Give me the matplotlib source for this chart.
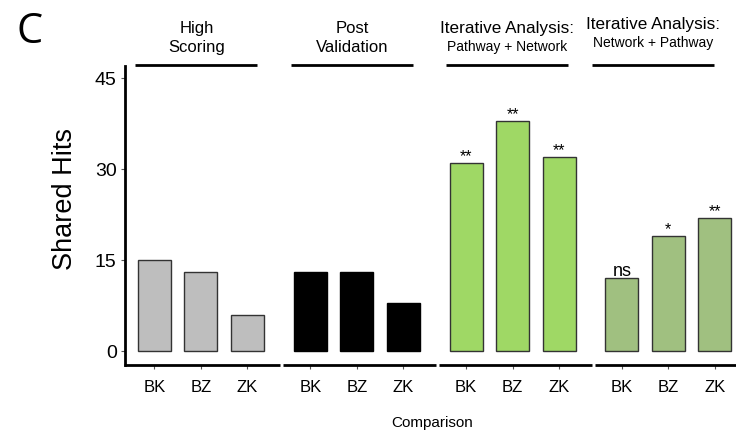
import matplotlib
matplotlib.use("Agg")
import matplotlib.pyplot as plt
import matplotlib.transforms as mtransforms

# ---- data ----
groups = ["High\nScoring", "Post\nValidation", "Iterative Analysis:", "Iterative Analysis:"]
subtitles = [None, None, "Pathway + Network", "Network + Pathway"]
comparisons = ["BK", "BZ", "ZK"]
high_scoring = [15, 13, 6]
post_validation = [13, 13, 8]
pathway_network = [31, 38, 32]
network_pathway = [12, 19, 22]
sig_pathway_network = ["**", "**", "**"]
sig_network_pathway = ["ns", "*", "**"]
yticks = [0, 15, 30, 45]

series = [high_scoring, post_validation, pathway_network, network_pathway]
sigs = [None, None, sig_pathway_network, sig_network_pathway]
colors = ["#BEBEBE", "#000000", "#9FD865", "#A0C080"]
edges = ["#333333", "#000000", "#333333", "#333333"]

plt.rcParams['font.family'] = ['Liberation Sans', 'DejaVu Sans']

W, H = 736, 434
fig = plt.figure(figsize=(W / 100, H / 100), dpi=100)
ax_left, ax_right, ax_top, ax_bot = 125, 736, 66, 365
ax = fig.add_axes([ax_left / W, (H - ax_bot) / H, (ax_right - ax_left) / W, (ax_bot - ax_top) / H])

gstep = 3.35
width = 0.71
for g, vals in enumerate(series):
    xs = [g * gstep + i for i in range(len(vals))]
    ax.bar(xs, vals, width=width, color=colors[g], edgecolor=edges[g], linewidth=1.0, zorder=2)
    if sigs[g] is not None:
        for x, v, s in zip(xs, vals, sigs[g]):
            fs = 13 if s == "ns" else 11.5
            ax.text(x, v + 0.3, s, ha="center", va="baseline", fontsize=fs)

ax.set_xlim(-0.634, 12.505)
ax.set_ylim(-2.3, 47.0)
ax.set_yticks(yticks)
ax.set_yticklabels([str(t) for t in yticks], fontsize=14)

xt = [g * gstep + i for g in range(4) for i in range(3)]
ax.set_xticks(xt)
ax.set_xticklabels(comparisons * 4, fontsize=12)

for s in ["top", "right", "bottom"]:
    ax.spines[s].set_visible(False)
ax.spines["left"].set_linewidth(2.0)
ax.tick_params(axis="y", length=3, width=0.8, color="#555555", pad=3)
ax.tick_params(axis="x", length=3, width=0.8, color="#555555", pad=8)

def ay(py):
    return (ax_bot - py) / (ax_bot - ax_top)

trans = mtransforms.blended_transform_factory(ax.transData, ax.transAxes)

# bottom segmented axis line
for g in range(4):
    x0 = g * gstep - 0.65 if g == 0 else g * gstep - 0.58
    x1 = g * gstep + 2.7
    ax.plot([x0, x1], [0, 0], color="black", lw=2.0, transform=trans, clip_on=False, solid_capstyle="butt")

# headers
center_off = [-0.1, -0.1, -0.12, -0.33]
half = 1.31
for g in range(4):
    c = g * gstep + 1 + center_off[g]
    ax.plot([c - half, c + half], [ay(65), ay(65)], color="black", lw=2.0,
            transform=trans, clip_on=False, solid_capstyle="butt")
    if subtitles[g] is None:
        ax.text(c, ay(38), groups[g], ha="center", va="center", fontsize=12,
                linespacing=1.3, transform=trans)
    else:
        dy = 4 if g == 3 else 0
        ax.text(c, ay(29 - dy), groups[g], ha="center", va="center", fontsize=12.3, transform=trans)
        ax.text(c, ay(47 - dy), subtitles[g], ha="center", va="center", fontsize=10, transform=trans)

fig.text(65 / W, 1 - 199 / H, "Shared Hits", rotation=90, ha="center", va="center", fontsize=19.5)
fig.text(432 / W, 1 - 423 / H, "Comparison", ha="center", va="center", fontsize=11)
fig.text(30 / W, 1 - 32 / H, "C", ha="center", va="center", fontsize=30, family=["Open Sans", "DejaVu Sans"])

fig.savefig("out.png", dpi=100)
